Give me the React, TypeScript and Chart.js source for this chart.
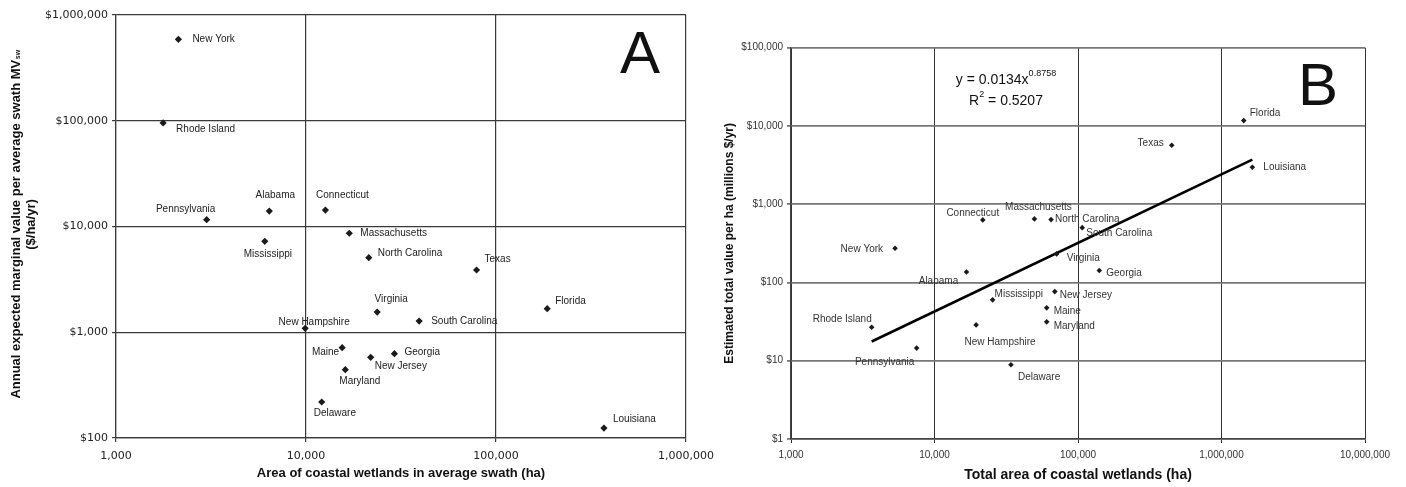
import React, { useEffect, useRef } from "react";
import { Chart, registerables } from "chart.js";
Chart.register(...registerables);

// ---------- Panel A data ----------
const statesA = [
  "New York", "Rhode Island", "Pennsylvania", "Alabama", "Connecticut", "Mississippi",
  "Massachusetts", "North Carolina", "Texas", "Virginia", "South Carolina", "Florida",
  "New Hampshire", "Maine", "Maryland", "Delaware", "New Jersey", "Georgia", "Louisiana",
];
const swathAreaA = [
  2130, 1770, 3000, 6410, 12650, 6070,
  16900, 21400, 79000, 23700, 39400, 186000,
  9900, 15500, 16100, 12100, 21900, 29200, 370000,
];
const marginalValueA = [
  589000, 95300, 11600, 14000, 14300, 7240,
  8630, 5070, 3880, 1550, 1275, 1670,
  1090, 714, 443, 219, 579, 627, 124,
];
const xTicksA = [1000, 10000, 100000, 1000000];
const yTicksA = [100, 1000, 10000, 100000, 1000000];

// ---------- Panel B data ----------
const statesB = [
  "Florida", "Texas", "Louisiana", "Connecticut", "Massachusetts", "North Carolina",
  "South Carolina", "New York", "Alabama", "Virginia", "Georgia", "Mississippi",
  "New Jersey", "Maine", "Maryland", "Rhode Island", "New Hampshire", "Pennsylvania", "Delaware",
];
const totalAreaB = [
  1429000, 450000, 1640000, 21700, 49700, 64900,
  107000, 5310, 16700, 71000, 140700, 25400,
  68900, 60500, 60500, 3650, 19500, 7510, 34100,
];
const totalValueB = [
  11700, 5670, 2970, 630, 649, 636,
  502, 274, 136, 232, 142, 60,
  76.5, 47.4, 31.4, 26.8, 28.7, 14.5, 8.87,
];
const trendX = [3650, 1640000];
const trendY = [17.6, 3710];
const xTicksB = [1000, 10000, 100000, 1000000, 10000000];
const yTicksB = [1, 10, 100, 1000, 10000, 100000];

// label placement: [align, dx, dy] relative to each point
type Place = [CanvasTextAlign, number, number];
const placeA: Record<string, Place> = {
  "New York": ["left", 14, 0],
  "Rhode Island": ["left", 13, 6],
  "Pennsylvania": ["center", -21, -10],
  "Alabama": ["center", 6, -16],
  "Connecticut": ["center", 17, -15],
  "Mississippi": ["center", 3, 13],
  "Massachusetts": ["left", 11, 0],
  "North Carolina": ["left", 9, -4],
  "Texas": ["left", 8, -11],
  "Virginia": ["center", 14, -13],
  "South Carolina": ["left", 12, 0],
  "Florida": ["left", 8, -7],
  "New Hampshire": ["center", 9, -6],
  "Maine": ["right", -3, 5],
  "Maryland": ["left", -6, 12],
  "Delaware": ["left", -8, 11],
  "New Jersey": ["left", 4, 9],
  "Georgia": ["left", 10, -1],
  "Louisiana": ["left", 9, -9],
};
const placeB: Record<string, Place> = {
  "Florida": ["left", 6, -7],
  "Texas": ["right", -8, -2],
  "Louisiana": ["left", 11, 0],
  "Connecticut": ["center", -10, -7],
  "Massachusetts": ["center", 4, -12],
  "North Carolina": ["left", 4, 0],
  "South Carolina": ["left", 4, 6],
  "New York": ["right", -12, 1],
  "Alabama": ["center", -28, 9],
  "Virginia": ["left", 10, 4],
  "Georgia": ["left", 7, 3],
  "Mississippi": ["left", 2, -6],
  "New Jersey": ["left", 5, 4],
  "Maine": ["left", 7, 3],
  "Maryland": ["left", 7, 4],
  "Rhode Island": ["right", 0, -8],
  "New Hampshire": ["center", 24, 17],
  "Pennsylvania": ["center", -32, 14],
  "Delaware": ["left", 7, 12],
};

const SANS = "'Liberation Sans', Arial, sans-serif";
const VERD = "'DejaVu Sans', Verdana, sans-serif";
const fmt = (v: number) => v.toLocaleString("en-US");

function labelPlugin(names: string[], place: Record<string, Place>, color: string) {
  return {
    id: "pointLabels",
    afterDatasetsDraw(chart: any) {
      const ctx = chart.ctx;
      const meta = chart.getDatasetMeta(0);
      ctx.save();
      ctx.font = `10px ${SANS}`;
      ctx.fillStyle = color;
      ctx.textBaseline = "middle";
      meta.data.forEach((el: any, i: number) => {
        const p = place[names[i]] || ["left", 8, 0];
        ctx.textAlign = p[0];
        ctx.fillText(names[i], el.x + p[1], el.y + p[2]);
      });
      ctx.restore();
    },
  };
}

function decadeTicks(values: number[]) {
  return (scale: any) => {
    scale.ticks = values.map((v) => ({ value: v }));
  };
}

export default function App() {
  const refA = useRef<HTMLCanvasElement>(null);
  const refB = useRef<HTMLCanvasElement>(null);

  useEffect(() => {
    const WA = 740;
    const H = 487;
    const gridA = { color: "#3a3a3a", lineWidth: 1.2, tickLength: 4 };
    const chartA = new Chart(refA.current!, {
      type: "scatter",
      data: {
        datasets: [
          {
            data: swathAreaA.map((x, i) => ({ x, y: marginalValueA[i] })),
            pointStyle: "rectRot",
            pointRadius: 3.6,
            backgroundColor: "#1a1a1a",
            borderWidth: 0,
          },
        ],
      },
      options: {
        responsive: false,
        animation: false,
        layout: { padding: { left: 0, top: 15, right: WA - 686, bottom: 0 } },
        plugins: { legend: { display: false }, tooltip: { enabled: false } },
        scales: {
          x: {
            type: "logarithmic",
            min: 1000,
            max: 1000000,
            afterBuildTicks: decadeTicks(xTicksA),
            afterFit: (s: any) => { s.height = H - 438; },
            grid: gridA,
            border: { color: "#3a3a3a", width: 1.2 },
            ticks: {
              autoSkip: false, maxRotation: 0, padding: 8, color: "#222",
              font: { family: VERD, size: 11 },
              callback: (v: any) => fmt(Number(v)),
            },
          },
          y: {
            type: "logarithmic",
            min: 100,
            max: 1000000,
            afterBuildTicks: decadeTicks(yTicksA),
            afterFit: (s: any) => { s.width = 116; },
            grid: gridA,
            border: { color: "#3a3a3a", width: 1.2 },
            ticks: {
              autoSkip: false, padding: 4, color: "#222",
              font: { family: VERD, size: 11 },
              callback: (v: any) => "$" + fmt(Number(v)),
            },
          },
        },
      },
      plugins: [
        labelPlugin(statesA, placeA, "#222"),
        {
          id: "textA",
          afterDraw(chart: any) {
            const ctx = chart.ctx;
            const ca = chart.chartArea;
            ctx.save();
            ctx.fillStyle = "#111";
            // panel letter
            ctx.font = `60px ${SANS}`;
            ctx.textAlign = "center";
            ctx.textBaseline = "alphabetic";
            ctx.fillText("A", 640, 73);
            // x title
            ctx.font = `bold 13px ${SANS}`;
            ctx.textBaseline = "middle";
            ctx.fillText("Area of coastal wetlands in average swath (ha)", (ca.left + ca.right) / 2, 473);
            // y title (two lines, subscript)
            const cy = (ca.top + ca.bottom) / 2 - 2;
            ctx.translate(16, cy);
            ctx.rotate(-Math.PI / 2);
            const main = "Annual expected marginal value per average swath MV";
            const sub = "sw";
            ctx.font = `bold 13px ${SANS}`;
            const w1 = ctx.measureText(main).width;
            ctx.font = `bold 7px ${SANS}`;
            const w2 = ctx.measureText(sub).width;
            const start = -(w1 + w2) / 2;
            ctx.textAlign = "left";
            ctx.font = `bold 13px ${SANS}`;
            ctx.fillText(main, start, 0);
            ctx.font = `bold 7px ${SANS}`;
            ctx.fillText(sub, start + w1 + 0.5, 2);
            ctx.textAlign = "center";
            ctx.font = `bold 13px ${SANS}`;
            ctx.fillText("($/ha/yr)", 0, 15);
            ctx.restore();
          },
        },
      ],
    } as any);

    const WB = 706;
    const chartB = new Chart(refB.current!, {
      type: "scatter",
      data: {
        datasets: [
          {
            data: totalAreaB.map((x, i) => ({ x, y: totalValueB[i] })),
            pointStyle: "rectRot",
            pointRadius: 2.8,
            backgroundColor: "#1a1a1a",
            borderWidth: 0,
          },
          {
            data: trendX.map((x, i) => ({ x, y: trendY[i] })),
            showLine: true,
            borderColor: "#000",
            borderWidth: 2.6,
            pointRadius: 0,
          },
        ],
      },
      options: {
        responsive: false,
        animation: false,
        layout: { padding: { left: 0, top: 47.7, right: WB - 665, bottom: 0 } },
        plugins: { legend: { display: false }, tooltip: { enabled: false } },
        scales: {
          x: {
            type: "logarithmic",
            min: 1000,
            max: 10000000,
            afterBuildTicks: decadeTicks(xTicksB),
            afterFit: (s: any) => { s.height = H - 439; },
            grid: { color: "#333", lineWidth: 1, tickLength: 4 },
            border: { color: "#444", width: 1.5 },
            ticks: {
              autoSkip: false, maxRotation: 0, padding: 6, color: "#333",
              font: { family: SANS, size: 10 },
              callback: (v: any) => fmt(Number(v)),
            },
          },
          y: {
            type: "logarithmic",
            min: 1,
            max: 100000,
            afterBuildTicks: decadeTicks(yTicksB),
            afterFit: (s: any) => { s.width = 91; },
            grid: { color: "#777", lineWidth: 1.8, tickLength: 4 },
            border: { color: "#444", width: 1.2 },
            ticks: {
              autoSkip: false, padding: 4, color: "#333",
              font: { family: SANS, size: 10 },
              callback: (v: any) => "$" + fmt(Number(v)),
            },
          },
        },
      },
      plugins: [
        labelPlugin(statesB, placeB, "#333"),
        {
          id: "textB",
          afterDraw(chart: any) {
            const ctx = chart.ctx;
            const ca = chart.chartArea;
            ctx.save();
            ctx.fillStyle = "#111";
            ctx.font = `60px ${SANS}`;
            ctx.textAlign = "center";
            ctx.textBaseline = "alphabetic";
            ctx.fillText("B", 618, 105);
            // equation
            ctx.textBaseline = "middle";
            ctx.textAlign = "left";
            const cx = 306;
            ctx.font = `14px ${SANS}`;
            const e1 = "y = 0.0134x";
            const w1 = ctx.measureText(e1).width;
            ctx.font = `9px ${SANS}`;
            const s1 = "0.8758";
            const ws1 = ctx.measureText(s1).width;
            let x0 = cx - (w1 + ws1) / 2;
            ctx.font = `14px ${SANS}`;
            ctx.fillText(e1, x0, 80);
            ctx.font = `9px ${SANS}`;
            ctx.fillText(s1, x0 + w1, 74);
            ctx.font = `14px ${SANS}`;
            const wr = ctx.measureText("R").width;
            const rest = " = 0.5207";
            const wrest = ctx.measureText(rest).width;
            ctx.font = `9px ${SANS}`;
            const w2 = ctx.measureText("2").width;
            x0 = cx - (wr + w2 + wrest) / 2;
            ctx.font = `14px ${SANS}`;
            ctx.fillText("R", x0, 101);
            ctx.font = `9px ${SANS}`;
            ctx.fillText("2", x0 + wr, 95);
            ctx.font = `14px ${SANS}`;
            ctx.fillText(rest, x0 + wr + w2, 101);
            // x title
            ctx.textAlign = "center";
            ctx.font = `bold 14px ${SANS}`;
            ctx.fillText("Total area of coastal wetlands (ha)", (ca.left + ca.right) / 2, 475);
            // y title
            ctx.translate(30, (ca.top + ca.bottom) / 2);
            ctx.rotate(-Math.PI / 2);
            ctx.font = `bold 12px ${SANS}`;
            ctx.fillText("Estimated total value per ha (millions $/yr)", 0, 0);
            ctx.restore();
          },
        },
      ],
    } as any);

    return () => {
      chartA.destroy();
      chartB.destroy();
    };
  }, []);

  return (
    <div style={{ position: "absolute", left: 0, top: 0, width: 1406, height: 487, background: "#fff", overflow: "hidden" }}>
      <canvas ref={refA} width={740} height={487} style={{ position: "absolute", left: 0, top: 0, width: 740, height: 487 }} />
      <canvas ref={refB} width={706} height={487} style={{ position: "absolute", left: 700, top: 0, width: 706, height: 487 }} />
    </div>
  );
}
